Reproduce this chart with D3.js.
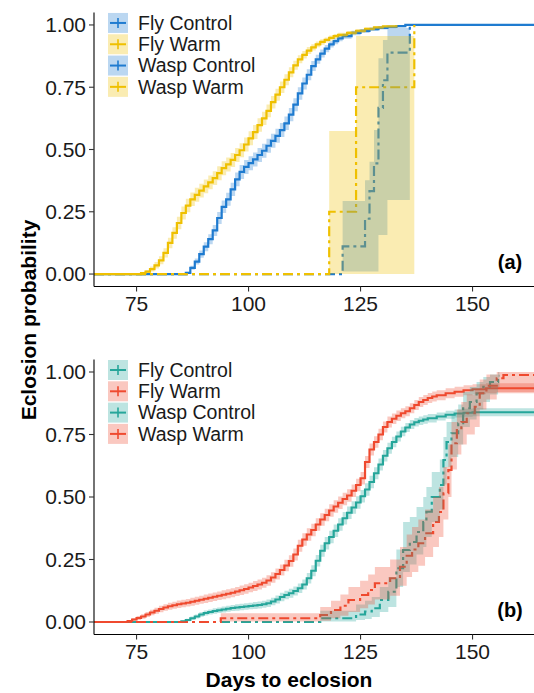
<!DOCTYPE html>
<html>
<head>
<meta charset="utf-8">
<script src="https://cdn.jsdelivr.net/npm/d3@7"></script>
<style>
  body { margin: 0; background: #fff; }
  svg { font-family: "Liberation Sans", Arial, sans-serif; display: block; }
</style>
</head>
<body>
<div id="chart"></div>
<script>
// groups and ticks
var groups = ["Fly Control", "Fly Warm", "Wasp Control", "Wasp Warm"];
var xTicks = [75, 100, 125, 150];
var yTicks = [0, 0.25, 0.5, 0.75, 1];

// panel (a): fly rows are [day, prob, ci half width]
var flyControlA = [[86,.005,.004],[87,.025,.008],[88,.05,.012],[89,.08,.015],[90,.11,.018],[91,.14,.02],
  [92,.175,.022],[93,.225,.024],[94,.27,.025],[95,.30,.026],[96,.34,.027],[97,.38,.028],[98,.41,.028],
  [99,.43,.028],[100,.445,.028],[101,.46,.028],[102,.478,.028],[103,.495,.028],[104,.515,.028],
  [105,.535,.028],[106,.555,.028],[107,.578,.028],[108,.605,.027],[109,.64,.027],[110,.68,.026],
  [111,.725,.025],[112,.765,.024],[113,.80,.022],[114,.835,.02],[115,.862,.018],[116,.885,.016],
  [117,.905,.015],[118,.922,.013],[119,.935,.012],[120,.946,.011],[121,.955,.01],[123,.968,.009],
  [125,.976,.008],[127,.983,.007],[129,.988,.006],[131,.992,.005],[133,.995,.004],[135,1,0]];
var flyWarmA = [[76,.004,.003],[77,.01,.006],[78,.02,.01],[79,.035,.013],[80,.055,.016],[81,.085,.019],
  [82,.125,.021],[83,.165,.023],[84,.205,.025],[85,.245,.026],[86,.275,.027],[87,.30,.027],[88,.318,.028],
  [89,.335,.028],[90,.352,.028],[91,.368,.028],[92,.385,.028],[93,.405,.028],[94,.425,.028],[95,.44,.028],
  [96,.458,.028],[97,.478,.028],[98,.497,.028],[99,.52,.028],[100,.545,.028],[101,.57,.028],[102,.598,.027],
  [103,.625,.027],[104,.655,.026],[105,.69,.025],[106,.72,.024],[107,.75,.023],[108,.78,.022],[109,.81,.02],
  [110,.838,.018],[111,.862,.016],[112,.88,.015],[113,.897,.014],[114,.91,.013],[115,.922,.012],
  [116,.932,.011],[117,.94,.01],[118,.948,.01],[119,.955,.009],[120,.96,.009],[122,.968,.008],
  [124,.976,.007],[126,.984,.006],[128,.99,.005],[130,.994,.004],[133,1,0]];
// wasp rows are [day, prob, lower, upper]
var waspControlA = [[121,.111,.01,.293],[126,.222,.01,.377],[127,.333,.01,.451],[128,.444,.01,.578],
  [129,.667,.157,.866],[130,.778,.157,.94],[131,.889,.297,.988],[136,1,1,1]];
var waspWarmA = [[118,.25,0,.574],[124,.75,0,.956],[137,1,1,1]];

// panel (b)
var flyControlB = [[85,.003,.003],[86,.008,.005],[87,.015,.007],[88,.022,.008],[89,.03,.009],[90,.036,.01],
  [91,.04,.01],[92,.044,.011],[93,.047,.011],[94,.05,.012],[95,.053,.012],[96,.056,.012],[97,.058,.013],
  [98,.06,.013],[99,.062,.013],[100,.064,.013],[101,.066,.014],[102,.068,.014],[103,.071,.014],
  [104,.075,.015],[105,.082,.015],[106,.09,.016],[107,.10,.017],[108,.108,.017],[109,.115,.018],
  [110,.124,.018],[111,.135,.019],[112,.15,.02],[113,.175,.021],[114,.205,.022],[115,.245,.023],
  [116,.285,.024],[117,.315,.025],[118,.34,.025],[119,.365,.025],[120,.39,.025],[121,.415,.025],
  [122,.437,.025],[123,.458,.025],[124,.478,.025],[125,.503,.025],[126,.53,.025],[127,.56,.025],
  [128,.595,.024],[129,.63,.024],[130,.665,.023],[131,.695,.022],[132,.72,.021],[133,.742,.02],
  [134,.762,.019],[135,.778,.018],[136,.79,.018],[137,.799,.017],[138,.805,.017],[139,.81,.017],
  [140,.815,.017],[142,.822,.016],[144,.829,.016],[146,.834,.016],[148,.837,.016],[150,.839,.016]];
var flyWarmB = [[73,.004,.003],[74,.01,.006],[75,.016,.008],[76,.022,.009],[77,.03,.01],[78,.038,.011],
  [79,.045,.012],[80,.052,.013],[81,.058,.013],[82,.063,.014],[83,.067,.014],[84,.071,.015],[85,.074,.015],
  [86,.077,.015],[87,.081,.016],[88,.085,.016],[89,.089,.016],[90,.093,.017],[91,.097,.017],[92,.101,.017],
  [93,.105,.017],[94,.109,.018],[95,.113,.018],[96,.117,.018],[97,.122,.018],[98,.127,.019],[99,.132,.019],
  [100,.138,.019],[101,.144,.02],[102,.15,.02],[103,.157,.02],[104,.166,.021],[105,.178,.021],
  [106,.192,.022],[107,.208,.022],[108,.226,.023],[109,.244,.023],[110,.27,.024],[111,.305,.024],
  [112,.33,.025],[113,.35,.025],[114,.368,.025],[115,.39,.025],[116,.41,.025],[117,.428,.025],
  [118,.446,.025],[119,.462,.025],[120,.477,.025],[121,.492,.025],[122,.506,.025],[123,.525,.025],
  [124,.548,.025],[125,.575,.025],[126,.64,.024],[127,.69,.024],[128,.72,.023],[129,.75,.023],
  [130,.78,.022],[131,.80,.022],[132,.813,.021],[133,.825,.021],[134,.835,.02],[135,.843,.02],
  [136,.855,.02],[137,.868,.02],[138,.88,.02],[139,.888,.02],[140,.896,.02],[141,.902,.02],
  [142,.907,.02],[144,.915,.02],[146,.921,.02],[148,.927,.02],[150,.931,.02],[153,.935,.02]];
var waspControlB = [[116,.015,.002,.045],[124,.03,.008,.07],[126,.042,.012,.085],[127.5,.055,.02,.10],
  [129.3,.088,.04,.14],[131.2,.121,.06,.18],[133,.215,.14,.29],[134.5,.288,.2,.40],[136,.32,.23,.42],
  [137.5,.36,.27,.46],[139,.40,.30,.50],[139.7,.441,.34,.54],[140.9,.50,.40,.60],[142.7,.548,.45,.65],
  [143.5,.648,.55,.74],[144.2,.72,.62,.80],[145.3,.755,.66,.83],[146.8,.795,.71,.87],[147.9,.855,.78,.92],
  [149.4,.88,.81,.94],[150.9,.915,.85,.96],[152.4,.941,.88,.98],[153.9,.96,.91,.99],[155.7,.985,.94,1]];
var waspWarmB = [[93.8,.015,.002,.035],[116,.028,.005,.06],[118.4,.048,.015,.085],[120.5,.065,.025,.11],
  [122.3,.088,.04,.14],[124.9,.108,.055,.165],[126.7,.128,.07,.19],[128.2,.155,.09,.22],[131.6,.175,.105,.25],
  [133.8,.221,.145,.30],[135.3,.265,.18,.35],[136.5,.29,.2,.38],[137.9,.315,.225,.41],[139.4,.355,.26,.45],
  [141.2,.40,.30,.50],[142.5,.44,.34,.54],[143.5,.515,.41,.62],[144.6,.608,.50,.71],[145.3,.715,.61,.80],
  [146.5,.768,.67,.85],[147.5,.80,.71,.88],[148.7,.835,.75,.91],[150.5,.861,.78,.93],[151.6,.915,.85,.97],
  [153.1,.945,.89,.99],[155.4,.975,.92,1],[156.9,.988,.92,1]];

var xDomain = [65.5, 164.5];

var panels = [
  {label: "(a)", top: 12.5, bottom: 286.5, colors: ["#1F7BD0", "#EFC000"],
   series: [
     {rows: flyControlA, end: 164.5, fly: true, c: 0},
     {rows: flyWarmA, end: 133, fly: true, c: 1},
     {rows: waspControlA, end: 136, fly: false, c: 0},
     {rows: waspWarmA, end: 137, fly: false, c: 1}]},
  {label: "(b)", top: 359.5, bottom: 634.5, colors: ["#26A69A", "#EF4A2F"],
   series: [
     {rows: flyControlB, end: 164.5, fly: true, c: 0},
     {rows: flyWarmB, end: 164.5, fly: true, c: 1},
     {rows: waspControlB, end: 156, fly: false, c: 0},
     {rows: waspWarmB, end: 164.5, fly: false, c: 1}]}
];

var W = 534, H = 693;
var svg = d3.select("#chart").append("svg").attr("width", W).attr("height", H);

var x = d3.scaleLinear().domain(xDomain).range([94, 537.5]);

panels.forEach(function(pn, i) {
  var y = d3.scaleLinear().domain([-0.05, 1.05]).range([pn.bottom, pn.top]);
  var g = svg.append("g");

  g.append("clipPath").attr("id", "clip" + i)
    .append("rect").attr("x", 94).attr("y", pn.top - 2)
    .attr("width", 450).attr("height", pn.bottom - pn.top + 2);

  var plot = g.append("g").attr("clip-path", "url(#clip" + i + ")");

  var line = d3.line().curve(d3.curveStepAfter)
    .x(function(d) { return x(d.t); }).y(function(d) { return y(d.p); });
  var band = d3.area().curve(d3.curveStepAfter)
    .x(function(d) { return x(d.t); })
    .y0(function(d) { return y(d.lo); }).y1(function(d) { return y(d.hi); });

  // turn rows into step points
  var built = pn.series.map(function(s) {
    var pts = s.rows.map(function(r) {
      if (s.fly) return {t: r[0], p: r[1], lo: Math.max(0, r[1] - r[2]), hi: Math.min(1, r[1] + r[2])};
      return {t: r[0], p: r[1], lo: r[2], hi: r[3]};
    });
    var last = pts[pts.length - 1];
    var tail = {t: s.end, p: last.p, lo: last.lo, hi: last.hi};
    return {s: s, linePts: [{t: xDomain[0], p: 0}].concat(pts, [tail]), bandPts: pts.concat([tail])};
  });

  // lines first
  built.forEach(function(b) {
    plot.append("path")
      .attr("d", line(b.linePts))
      .attr("fill", "none")
      .attr("stroke", pn.colors[b.s.c])
      .attr("stroke-width", 2.2)
      .attr("stroke-dasharray", b.s.fly ? null : "10,4,3,4");
  });
  // confidence ribbons on top
  built.forEach(function(b) {
    plot.append("path")
      .attr("d", band(b.bandPts))
      .attr("fill", pn.colors[b.s.c])
      .attr("fill-opacity", 0.3)
      .attr("stroke", "none");
  });

  // axes
  g.append("line").attr("x1", 94).attr("x2", 94).attr("y1", pn.top).attr("y2", pn.bottom)
    .attr("stroke", "#000").attr("stroke-width", 1.1);
  g.append("line").attr("x1", 94).attr("x2", 540).attr("y1", pn.bottom).attr("y2", pn.bottom)
    .attr("stroke", "#000").attr("stroke-width", 1.1);

  yTicks.forEach(function(v) {
    g.append("line").attr("x1", 89).attr("x2", 94).attr("y1", y(v)).attr("y2", y(v))
      .attr("stroke", "#333").attr("stroke-width", 1.1);
    g.append("text").attr("x", 86).attr("y", y(v)).attr("dy", "0.35em")
      .attr("text-anchor", "end").attr("font-size", 21).attr("fill", "#1a1a1a")
      .text(d3.format(".2f")(v));
  });
  xTicks.forEach(function(v) {
    g.append("line").attr("x1", x(v)).attr("x2", x(v)).attr("y1", pn.bottom).attr("y2", pn.bottom + 5)
      .attr("stroke", "#333").attr("stroke-width", 1.1);
    g.append("text").attr("x", x(v)).attr("y", pn.bottom + 24)
      .attr("text-anchor", "middle").attr("font-size", 21).attr("fill", "#1a1a1a")
      .text(v);
  });

  // panel tag
  g.append("text").attr("x", 510).attr("y", y(0) - 5)
    .attr("text-anchor", "middle").attr("font-size", 20).attr("font-weight", "bold")
    .text(pn.label);

  // legend
  var legY = y(1) - 2;
  groups.forEach(function(name, k) {
    var col = pn.colors[k % 2];
    var cy = legY + k * 21.3;
    g.append("rect").attr("x", 108).attr("y", cy - 10).attr("width", 20).attr("height", 20)
      .attr("fill", col).attr("fill-opacity", 0.3);
    g.append("line").attr("x1", 110).attr("x2", 126).attr("y1", cy).attr("y2", cy)
      .attr("stroke", col).attr("stroke-width", 2);
    g.append("line").attr("x1", 118).attr("x2", 118).attr("y1", cy - 5).attr("y2", cy + 5)
      .attr("stroke", col).attr("stroke-width", 1.6);
    g.append("text").attr("x", 138).attr("y", cy).attr("dy", "0.35em")
      .attr("font-size", 19.5).attr("fill", "#1a1a1a").text(name);
  });
});

// shared axis titles
svg.append("text").attr("x", 289).attr("y", 687)
  .attr("text-anchor", "middle").attr("font-size", 21).attr("font-weight", "bold")
  .text("Days to eclosion");
svg.append("text").attr("transform", "translate(36,320) rotate(-90)")
  .attr("text-anchor", "middle").attr("font-size", 21).attr("font-weight", "bold")
  .text("Eclosion probability");
</script>
</body>
</html>
